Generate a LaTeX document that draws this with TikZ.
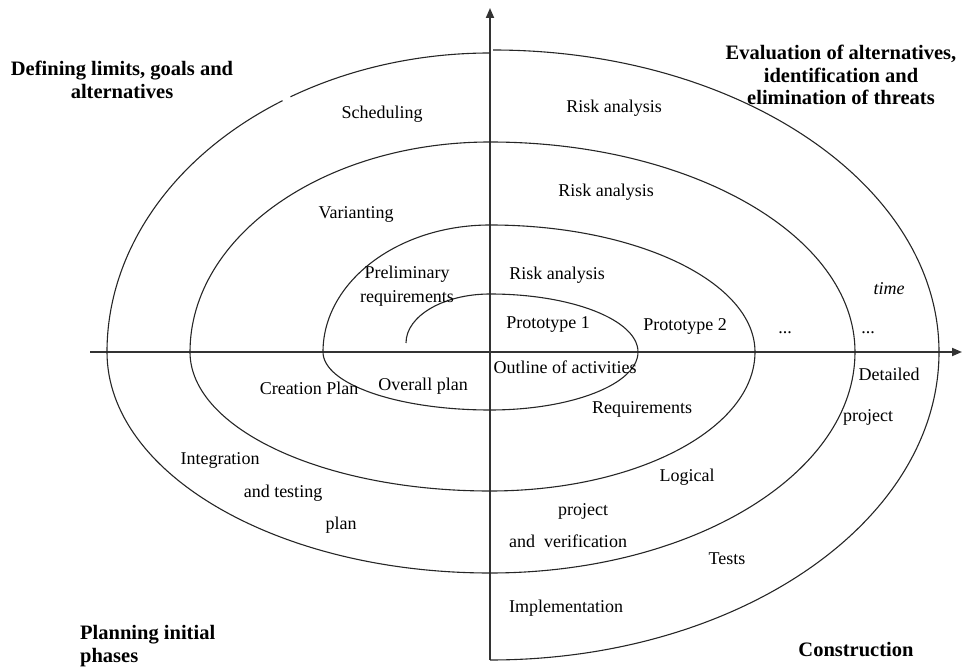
\documentclass[tikz,border=0pt]{standalone}
\usepackage{fontspec}
\setmainfont{Liberation Serif}
\usetikzlibrary{arrows.meta}
\begin{document}
\begin{tikzpicture}[x=1pt,y=-1pt,
  lbl/.style={inner sep=0pt, font=\fontsize{18}{24}\selectfont, align=center,
              text height=12.5pt, text depth=4pt},
  phase/.style={inner sep=0pt, font=\fontsize{20.5}{22.5}\selectfont\bfseries, align=center},
  spiral/.style={line width=1.1pt, draw=black!85},
  axis/.style={line width=1.8pt, draw=black!80, -{Triangle[length=10pt,width=8pt]}}]
\useasboundingbox (0,0) rectangle (964,668);

% axes through the centre of the spiral
\coordinate (O) at (490,352);
\coordinate (ybot) at (490,660);
\coordinate (ytop) at (490,8);
\coordinate (xleft) at (90,352);
\coordinate (xright) at (962,352);
\draw[axis] (ybot) -- (ytop);
\draw[axis] (xleft) -- (xright);

% spiral built from quarter ellipses around O
\coordinate (s0) at (406,343);
\draw[spiral] (s0)
  arc[start angle=180,end angle=270,x radius=84,y radius=49]
  arc[start angle=270,end angle=360,x radius=148,y radius=58]
  arc[start angle=0,end angle=90,x radius=148,y radius=58]
  arc[start angle=90,end angle=180,x radius=167,y radius=58]
  arc[start angle=180,end angle=270,x radius=167,y radius=127]
  arc[start angle=270,end angle=360,x radius=265,y radius=127]
  arc[start angle=0,end angle=90,x radius=265,y radius=139]
  arc[start angle=90,end angle=180,x radius=300,y radius=139]
  arc[start angle=180,end angle=270,x radius=300,y radius=210]
  arc[start angle=270,end angle=360,x radius=365,y radius=210]
  arc[start angle=0,end angle=90,x radius=365,y radius=221]
  arc[start angle=90,end angle=180,x radius=383,y radius=221]
  arc[start angle=180,end angle=237.2,x radius=383,y radius=299];
\coordinate (s1) at (290.5,96.8);
\draw[spiral] (s1)
  arc[start angle=238.6,end angle=270,x radius=383,y radius=299];
\coordinate (s2) at (493,50);
\draw[spiral] (s2)
  arc[start angle=270,end angle=360,x radius=446,y radius=302]
  arc[start angle=0,end angle=90,x radius=449,y radius=308];

% quadrant titles
\node[phase] (defining) at (122,80) {Defining limits, goals and\\alternatives};
\node[phase] (evaluation) at (841,75) {Evaluation of alternatives,\\identification and\\elimination of threats};
\node[phase, align=left, anchor=west] (planning) at (80,646) {Planning initial\\phases};
\node[phase] (construction) at (856,650) {Construction};

% activity labels
\node[lbl] (sched) at (382,114) {Scheduling};
\node[lbl] (risk3) at (614,108) {Risk analysis};
\node[lbl] (risk2) at (606,192) {Risk analysis};
\node[lbl] (variant) at (356,214) {Varianting};
\node[lbl, text height=, text depth=] (prelim) at (407,286) {Preliminary\\requirements};
\node[lbl] (risk1) at (557,275) {Risk analysis};
\node[lbl, font=\fontsize{18}{24}\selectfont\itshape] (time) at (889,290) {time};
\node[lbl] (proto1) at (548,324) {Prototype 1};
\node[lbl] (proto2) at (685,326) {Prototype 2};
\node[lbl, anchor=base] (dots1) at (785,334) {...};
\node[lbl, anchor=base] (dots2) at (868,334) {...};
\node[lbl] (outline) at (565,369) {Outline of activities};
\node[lbl] (overall) at (423,386) {Overall plan};
\node[lbl] (creation) at (309,390) {Creation Plan};
\node[lbl] (detailed) at (889,376) {Detailed};
\node[lbl] (dproject) at (868,417) {project};
\node[lbl] (req) at (642,409) {Requirements};
\node[lbl] (integ) at (220,460) {Integration};
\node[lbl] (testing) at (283,493) {and testing};
\node[lbl] (plan) at (341,525) {plan};
\node[lbl] (logical) at (687,477) {Logical};
\node[lbl] (lproject) at (583,511) {project};
\node[lbl] (verif) at (568,543) {and~~verification};
\node[lbl] (tests) at (727,560) {Tests};
\node[lbl] (impl) at (566,608) {Implementation};
\end{tikzpicture}
\end{document}
